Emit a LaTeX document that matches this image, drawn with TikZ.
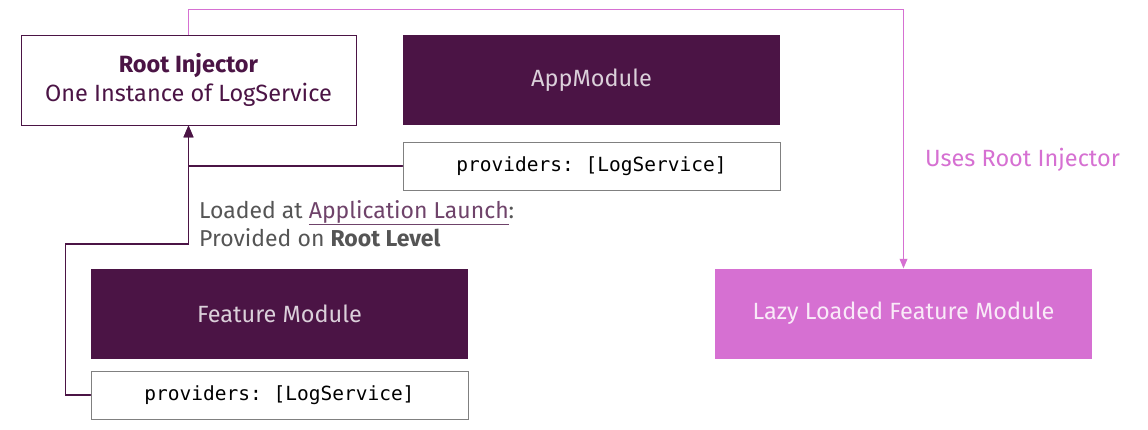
\documentclass[tikz,border=0pt]{standalone}
\usepackage{fontspec}
\setmainfont{Fira Sans}
\setmonofont{DejaVu Sans Mono}
\usetikzlibrary{arrows}

\definecolor{plum}{HTML}{4B1445}
\definecolor{orchid}{HTML}{D670D2}
\definecolor{txtgray}{HTML}{555555}

\tikzset{
  module/.style={fill=plum,text=plum!20!white,inner sep=0pt,
    minimum width=377pt,minimum height=90pt,font=\fontsize{23.5}{26}\selectfont},
  provbox/.style={draw=gray,line width=1pt,fill=white,inner sep=0pt,
    minimum width=377pt,minimum height=48pt,font=\ttfamily\fontsize{19.5}{22}\selectfont},
  wire/.style={plum,line width=1.8pt},
  lazywire/.style={orchid,line width=1.2pt}
}

\begin{document}
\begin{tikzpicture}[x=1pt,y=1pt,line cap=round]
  \useasboundingbox[fill=white] (0,0) rectangle (1148,-429);

  \node[draw=plum,line width=1pt,inner sep=0pt,minimum width=335pt,minimum height=90pt,
    align=center,text=plum,font=\fontsize{23.5}{29}\selectfont]
    (root) at (188.5,-80) {\textbf{Root Injector}\\One Instance of LogService};
  \node[module] (app) at (591.5,-80) {AppModule};
  \node[provbox] (approv) at (591.5,-166) {providers: [LogService]};

  \node[module] (feat) at (279.5,-313.5) {Feature Module};
  \node[provbox] (featprov) at (279.5,-395) {providers: [LogService]};

  \node[module,fill=orchid,text=orchid!15!white] (lazy) at (903.5,-313.5)
    {Lazy Loaded Feature Module};

  \node[anchor=north west,align=left,text=txtgray,inner sep=0pt,
    font=\fontsize{23}{28}\selectfont] (loaded) at (199,-200)
    {Loaded at \textcolor{plum!80!white}{\underline{Application Launch}}:\\
     Provided on \textbf{Root Level}};
  \node[anchor=west,text=orchid,inner sep=0pt,font=\fontsize{23.5}{26}\selectfont]
    (uses) at (925,-160) {Uses Root Injector};

  % wiring
  \coordinate (bend) at (188.5,-244);
  \draw[wire,-{triangle 45}] (approv.west) -| (root.south);
  \draw[wire,-{triangle 45}] (featprov.west) -- ++(-25,0) |- (bend) -- (root.south);
  \draw[lazywire,-{triangle 45}] (root.north) -- ++(0,25) -| (lazy.north);
\end{tikzpicture}
\end{document}
